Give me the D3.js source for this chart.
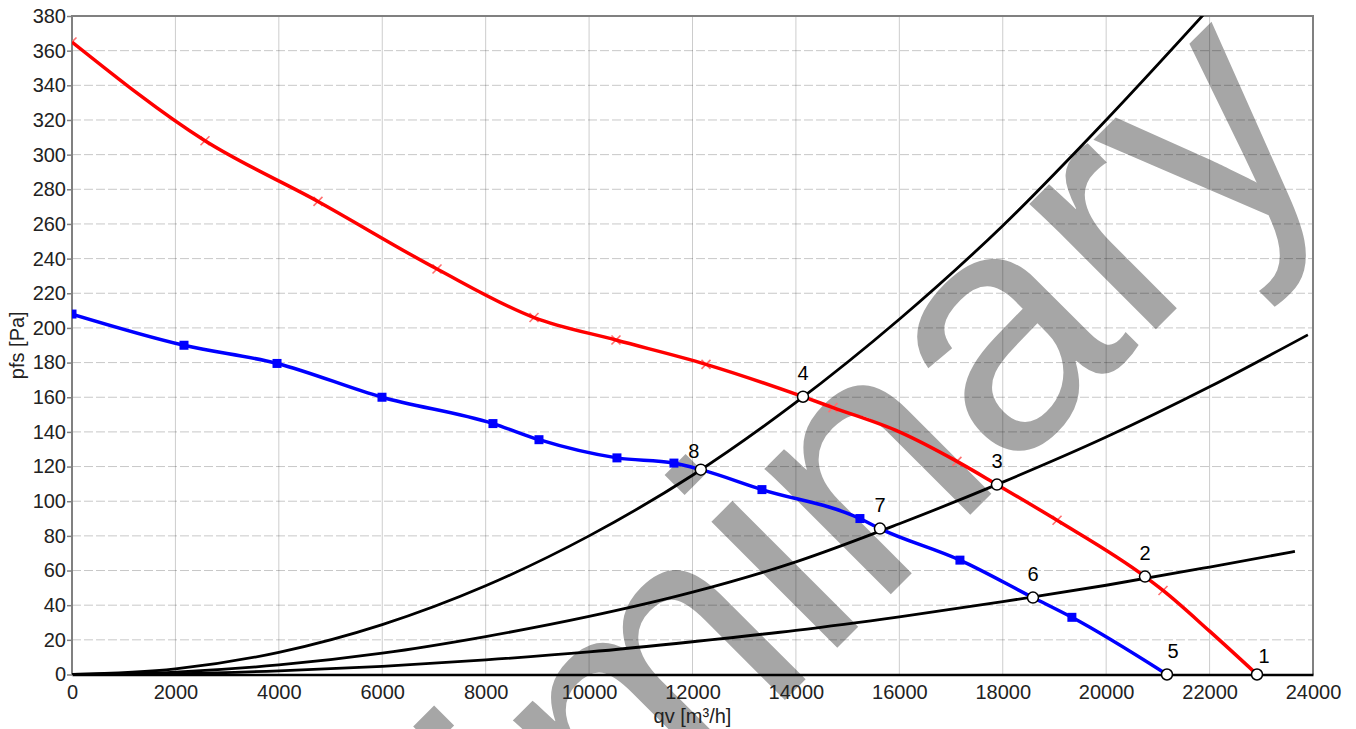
<!DOCTYPE html>
<meta charset="utf-8" />
<script src="https://cdn.jsdelivr.net/npm/d3@7"></script>
<div id="chart"></div>
<style>
  body { margin: 0; background: #fff; }
  svg { display: block; }
  text { font-family: "Liberation Sans", Arial, sans-serif; }
</style>
<script>
  // axis ticks
  const xTicks = [0, 2000, 4000, 6000, 8000, 10000, 12000, 14000, 16000, 18000, 20000, 22000, 24000];
  const yTicks = [0, 20, 40, 60, 80, 100, 120, 140, 160, 180, 200, 220, 240, 260, 280, 300, 320, 340, 360, 380];

  // red fan curve
  const redQv = [0, 2572, 4757, 7059, 8935, 10520, 12261, 14137, 14717, 16000, 17114, 17888, 19050, 20751, 21099, 22000, 22917];
  const redPfs = [365, 308, 273, 234, 206, 193, 179, 160.3, 154, 140, 123, 109.6, 89, 56.5, 48.5, 25, 0];
  const redMarkQv = [0, 2572, 4757, 7059, 8935, 10520, 12261, 14717, 17114, 19050, 21099];
  const redMarkPfs = [365, 308, 273, 234, 206, 193, 179, 154, 123, 89, 48.5];

  // blue fan curve
  const blueQv = [0, 2166, 3965, 5995, 8141, 9031, 10539, 11641, 12161, 13343, 15238, 15625, 17172, 18584, 19337, 21176];
  const bluePfs = [208, 190, 179.5, 160, 144.8, 135.5, 125, 122, 118.2, 106.7, 90, 84.2, 66, 44.4, 33, 0];
  const blueMarkQv = [0, 2166, 3965, 5995, 8141, 9031, 10539, 11641, 13343, 15238, 17172, 19337];
  const blueMarkPfs = [208, 190, 179.5, 160, 144.8, 135.5, 125, 122, 106.7, 90, 66, 33];

  // system curves (black)
  const sysAQv = [0, 2000, 4000, 6000, 8000, 10000, 12000, 14000, 16000, 18000, 20000, 21950];
  const sysAPfs = [0, 3.2, 12.8, 28.8, 51.2, 80, 115, 157, 205, 259, 320, 383];
  const sysBQv = [0, 2000, 4000, 6000, 8000, 10000, 12000, 14000, 16000, 18000, 20000, 22000, 23900];
  const sysBPfs = [0, 1.4, 5.5, 12.3, 21.9, 33.5, 47.5, 65, 87, 111, 137, 166, 196];
  const sysCQv = [0, 2000, 4000, 6000, 8000, 10000, 12000, 14000, 16000, 18000, 20000, 22000, 23650];
  const sysCPfs = [0, 0.5, 2.1, 4.7, 8.4, 13, 18.9, 25.5, 33.3, 42, 51.5, 62, 71];

  // operating points
  const opLabels = ["1", "2", "3", "4", "5", "6", "7", "8"];
  const opQv = [22917, 20751, 17888, 14137, 21176, 18584, 15625, 12161];
  const opPfs = [0, 56.5, 109.6, 160.3, 0, 44.4, 84.2, 118.2];

  const W = 1356, H = 729;
  const mLeft = 72, mRight = 1313, mTop = 16, mBottom = 674.5;

  const svg = d3.select("#chart").append("svg")
    .attr("width", W).attr("height", H);
  svg.append("rect").attr("width", W).attr("height", H).attr("fill", "#fff");

  const x = d3.scaleLinear().domain([0, 24000]).range([mLeft, mRight]);
  const y = d3.scaleLinear().domain([0, 380]).range([mBottom, mTop]);

  // watermark sits under everything
  svg.append("text")
    .attr("transform", "translate(742,743) rotate(-45)")
    .attr("text-anchor", "middle")
    .style("font-size", "337px")
    .attr("fill", "#a6a6a6")
    .text("Preliminary");

  // grid
  svg.append("g").selectAll("line").data(xTicks.slice(1, -1)).join("line")
    .attr("x1", d => x(d)).attr("x2", d => x(d))
    .attr("y1", mTop).attr("y2", mBottom)
    .attr("stroke", "rgba(0,0,0,0.2)").attr("stroke-width", 1);
  svg.append("g").selectAll("line").data(yTicks.slice(1, -1)).join("line")
    .attr("x1", mLeft).attr("x2", mRight)
    .attr("y1", d => y(d)).attr("y2", d => y(d))
    .attr("stroke", "rgba(0,0,0,0.22)").attr("stroke-width", 1)
    .attr("stroke-dasharray", "9,3");

  // frame
  svg.append("path")
    .attr("d", `M${mLeft},${mBottom}V${mTop}H${mRight}V${mBottom}`)
    .attr("fill", "none").attr("stroke", "#808080").attr("stroke-width", 2);

  // axes
  const yAxis = svg.append("g")
    .attr("transform", `translate(${mLeft},0)`)
    .call(d3.axisLeft(y).tickValues(yTicks).tickSize(5).tickPadding(1).tickFormat(d3.format("d")));
  yAxis.select(".domain").remove();
  yAxis.selectAll(".tick line").attr("stroke", "#808080").attr("stroke-width", 1.5);
  yAxis.selectAll("text").style("font-size", "20px").attr("fill", "#222");

  const xAxis = svg.append("g")
    .attr("transform", `translate(0,${mBottom})`)
    .call(d3.axisBottom(x).tickValues(xTicks).tickSize(0).tickPadding(10).tickFormat(d3.format("d")));
  xAxis.select(".domain").attr("stroke", "#000").attr("stroke-width", 2.5);
  xAxis.selectAll("text").style("font-size", "20px").attr("fill", "#222");

  svg.append("text")
    .attr("x", (mLeft + mRight) / 2).attr("y", 723)
    .attr("text-anchor", "middle").style("font-size", "20px").attr("fill", "#222")
    .text("qv [m³/h]");
  svg.append("text")
    .attr("transform", `translate(24,${(mTop + mBottom) / 2}) rotate(-90)`)
    .attr("text-anchor", "middle").style("font-size", "20px").attr("fill", "#222")
    .text("pfs [Pa]");

  // plot area
  svg.append("clipPath").attr("id", "clip").append("rect")
    .attr("x", mLeft).attr("y", mTop).attr("width", mRight - mLeft).attr("height", mBottom - mTop);
  const plot = svg.append("g").attr("clip-path", "url(#clip)");

  const line = d3.line().x(d => x(d[0])).y(d => y(d[1])).curve(d3.curveMonotoneX);
  const zip = (a, b) => a.map((v, i) => [v, b[i]]);

  [[sysAQv, sysAPfs], [sysBQv, sysBPfs], [sysCQv, sysCPfs]].forEach(([q, p]) => {
    plot.append("path").datum(zip(q, p))
      .attr("d", line).attr("fill", "none")
      .attr("stroke", "#000").attr("stroke-width", 2.8);
  });

  // red crosses under the red line
  plot.append("g").selectAll("path").data(zip(redMarkQv, redMarkPfs)).join("path")
    .attr("d", d => {
      const cx = x(d[0]), cy = y(d[1]), s = 4.5;
      return `M${cx - s},${cy - s}L${cx + s},${cy + s}M${cx - s},${cy + s}L${cx + s},${cy - s}`;
    })
    .attr("stroke", "#ff7070").attr("stroke-width", 1.6);

  plot.append("path").datum(zip(redQv, redPfs))
    .attr("d", line).attr("fill", "none")
    .attr("stroke", "#ff0000").attr("stroke-width", 3.5);

  plot.append("path").datum(zip(blueQv, bluePfs))
    .attr("d", line).attr("fill", "none")
    .attr("stroke", "#0000ff").attr("stroke-width", 3.5);

  plot.append("g").selectAll("rect").data(zip(blueMarkQv, blueMarkPfs)).join("rect")
    .attr("x", d => x(d[0]) - 4.5).attr("y", d => y(d[1]) - 4.5)
    .attr("width", 9).attr("height", 9).attr("fill", "#0000ff");

  // operating points
  const nudge = { "1": [7, -12], "5": [6, -17], "8": [-7, -12] };
  const ops = opLabels.map((l, i) => ({ l, q: opQv[i], p: opPfs[i] }));
  svg.append("g").selectAll("circle").data(ops).join("circle")
    .attr("cx", d => x(d.q)).attr("cy", d => y(d.p)).attr("r", 5.5)
    .attr("fill", "#fff").attr("stroke", "#000").attr("stroke-width", 1.5);
  svg.append("g").selectAll("text").data(ops).join("text")
    .attr("x", d => x(d.q) + (nudge[d.l] ? nudge[d.l][0] : 0))
    .attr("y", d => y(d.p) + (nudge[d.l] ? nudge[d.l][1] : -17))
    .attr("text-anchor", "middle").style("font-size", "20px").attr("fill", "#000")
    .text(d => d.l);
</script>
